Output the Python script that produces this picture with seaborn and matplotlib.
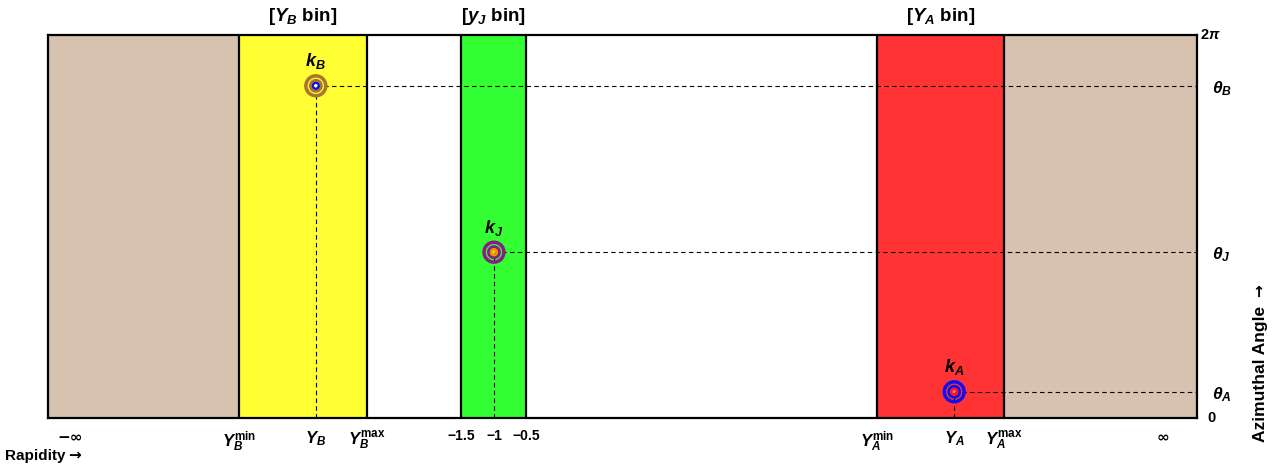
import matplotlib
matplotlib.use("Agg")
import matplotlib.pyplot as plt
import numpy as np
import pandas as pd
import seaborn as sns

# rapidity axis (arbitrary units, -1 / -1.5 / -0.5 are real values)
x_lo, x_hi = -7.86, 9.815
band_edges = [-7.86, -4.92, -2.955, -1.5, -0.5, 4.89, 6.845, 9.815]
band_colors = ["#d6c2ae", "#ffff33", "#ffffff", "#33ff33", "#ffffff", "#ff3333", "#d6c2ae"]

# x tick labels
xtick_pos = [-7.52, -4.92, -3.74, -2.955, -1.5, -1.0, -0.5, 4.89, 6.08, 6.845, 9.29]
xtick_lab = ["−∞", r"$Y_B^{\mathrm{min}}$", r"$Y_B$", r"$Y_B^{\mathrm{max}}$",
             "−1.5", "−1", "−0.5",
             r"$Y_A^{\mathrm{min}}$", r"$Y_A$", r"$Y_A^{\mathrm{max}}$", "∞"]

# bins shown on top
bin_lab = [r"[$Y_B$ bin]", r"[$y_J$ bin]", r"[$Y_A$ bin]"]
bin_lo = [-4.92, -1.5, 4.89]
bin_hi = [-2.955, -0.5, 6.845]

# particles
pt_name = [r"$k_B$", r"$k_J$", r"$k_A$"]
pt_y = [-3.74, -1.0, 6.08]
pt_phi = [5.45, 2.72, 0.43]
ring_col = ["#a8742e", "#8a1a8a", "#1010ee"]
core_edge = ["#1010ee", "#ff8c00", "#ff1a1a"]
core_face = ["#ffffff", "#ffd000", "#ff7070"]

# azimuth labels on the right
phi_lab = [r"$\theta_B$", r"$\theta_J$", r"$\theta_A$"]

sns.set_style("white")
plt.rcParams["font.family"] = ["Liberation Sans", "DejaVu Sans"]
plt.rcParams["font.weight"] = "bold"
plt.rcParams["text.color"] = "black"
plt.rcParams["xtick.color"] = "black"
plt.rcParams["mathtext.fontset"] = "custom"
plt.rcParams["mathtext.rm"] = "Liberation Sans:bold"
plt.rcParams["mathtext.it"] = "Liberation Sans:italic:bold"
plt.rcParams["mathtext.bf"] = "Liberation Sans:bold"

fig = plt.figure(figsize=(12.83, 4.71), dpi=100)
ax = fig.add_axes([48 / 1283, 1 - 418 / 471, 1149 / 1283, 383 / 471])
two_pi = 2 * np.pi

for lo, hi, c in zip(band_edges[:-1], band_edges[1:], band_colors):
    ax.axvspan(lo, hi, color=c, lw=0, zorder=0)
for e in band_edges[1:-1]:
    ax.axvline(e, color="black", lw=1.6, zorder=2)

# dashed guide lines
for x, p in zip(pt_y, pt_phi):
    ax.plot([x, x_hi], [p, p], color="black", lw=0.8, ls=(0, (4, 3)), zorder=3)
    ax.plot([x, x], [0, p], color="black", lw=0.8, ls=(0, (4, 3)), zorder=3)

# concentric rings
ax.scatter(pt_y, pt_phi, s=205, facecolors="none", edgecolors=ring_col, linewidths=2.5, zorder=4)
ax.scatter(pt_y, pt_phi, s=62, facecolors="none", edgecolors=ring_col, linewidths=2.1, zorder=4)
df = pd.DataFrame({"y": pt_y, "phi": pt_phi, "name": pt_name})
sns.scatterplot(data=df, x="y", y="phi", s=18, color="none", edgecolor=core_edge,
                linewidth=1.7, legend=False, ax=ax, zorder=5)
ax.scatter(pt_y, pt_phi, s=5, c=core_face, linewidths=0, zorder=6)

for x, p, n in zip(pt_y, pt_phi, pt_name):
    ax.annotate(n, (x, p), xytext=(0, 17.5), textcoords="offset points",
                ha="center", va="center", fontsize=13)

ax.set_xlim(x_lo, x_hi)
ax.set_ylim(0, two_pi)
ax.set_xlabel("")
ax.set_ylabel("")
ax.set_xticks(xtick_pos)
ax.set_xticklabels(xtick_lab)
for t in ax.get_xticklabels():
    t.set_fontsize(12 if "$" in t.get_text() else 10)
    t.set_fontweight("bold")
    if "∞" in t.get_text():
        t.set_family("DejaVu Sans")
        t.set_fontsize(11)
ax.tick_params(axis="x", length=0, pad=8)
ax.set_yticks([])
for s in ax.spines.values():
    s.set_color("black")
    s.set_linewidth(1.6)

# top bin labels
for lab, lo, hi in zip(bin_lab, bin_lo, bin_hi):
    ax.text((lo + hi) / 2, 1.0 + 19 / 383, lab, transform=ax.get_xaxis_transform(),
            ha="center", va="center", fontsize=13.5)

# right side labels
ytr = ax.get_yaxis_transform()
ax.text(1.003, two_pi, r"$2\pi$", transform=ytr, ha="left", va="center", fontsize=10.5)
ax.text(1.009, 0, "0", transform=ytr, ha="left", va="center", fontsize=10.5)
for lab, p in zip(phi_lab, pt_phi):
    ax.text(1.013, p - 0.04, lab, transform=ytr, ha="left", va="center", fontsize=12.5)

# axis captions, arrows drawn with DejaVu
fig.text(5 / 1283, 1 - 456 / 471, "Rapidity", ha="left", va="center", fontsize=11)
fig.text(68 / 1283, 1 - 455 / 471, "→", ha="left", va="center", fontsize=11,
         family="DejaVu Sans")
fig.text(1260 / 1283, 1 - 442 / 471, "Azimuthal Angle", ha="center", va="bottom",
         rotation=90, fontsize=12.5)
fig.text(1259 / 1283, 1 - 297 / 471, "→", ha="center", va="bottom", rotation=90,
         fontsize=11, family="DejaVu Sans")

fig.savefig("out.png", dpi=100)
